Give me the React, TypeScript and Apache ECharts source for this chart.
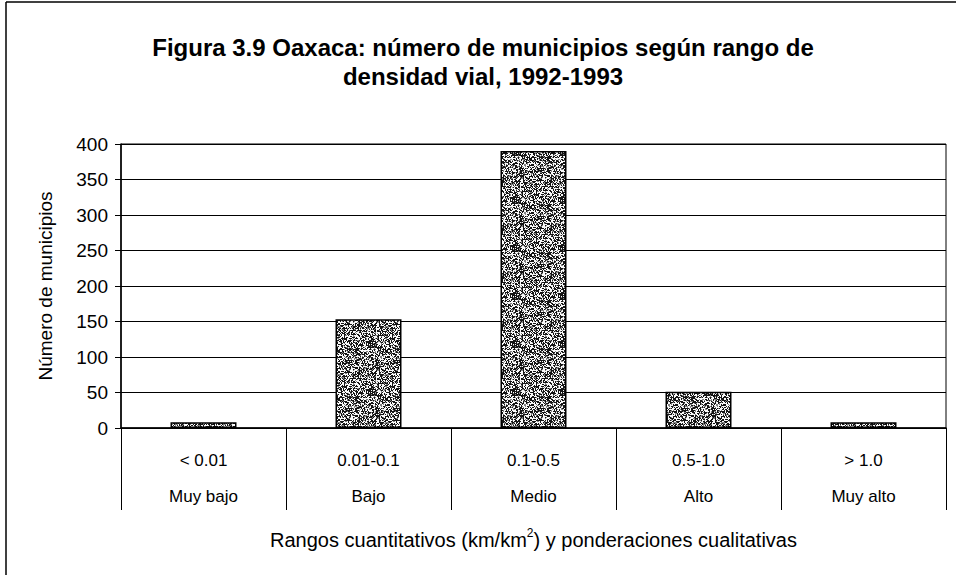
import React, { useEffect, useRef } from "react";
import * as echarts from "echarts";

const ranges = ["< 0.01", "0.01-0.1", "0.1-0.5", "0.5-1.0", "> 1.0"];
const levels = ["Muy bajo", "Bajo", "Medio", "Alto", "Muy alto"];
const municipios = [8, 153, 390, 51, 8];
const yTicks = { min: 0, max: 400, interval: 50 };

const titleText = "Figura 3.9 Oaxaca: número de municipios según rango de\ndensidad vial, 1992-1993";
const yName = "Número de municipios";
const xName = "Rangos cuantitativos (km/km{sup|2}) y ponderaciones cualitativas";

function makeStipple(): HTMLCanvasElement {
  const c = document.createElement("canvas");
  c.width = 48;
  c.height = 48;
  const ctx = c.getContext("2d")!;
  const img = ctx.createImageData(48, 48);
  let s = 12345;
  for (let i = 0; i < 48 * 48; i++) {
    s = (s * 1103515245 + 12345) & 0x7fffffff;
    const r = (s >> 8) % 100;
    const v = r < 45 ? 20 : r < 60 ? 130 : 250;
    img.data[i * 4] = v;
    img.data[i * 4 + 1] = v;
    img.data[i * 4 + 2] = v;
    img.data[i * 4 + 3] = 255;
  }
  ctx.putImageData(img, 0, 0);
  return c;
}

export default function App() {
  const ref = useRef<HTMLDivElement>(null);
  useEffect(() => {
    if (!ref.current) return;
    const chart = echarts.init(ref.current, null, { renderer: "svg" });
    const font = "'Liberation Sans', Arial, sans-serif";
    const pattern = makeStipple();
    chart.setOption({
      animation: false,
      backgroundColor: "#fff",
      textStyle: { fontFamily: font, color: "#000" },
      title: {
        text: titleText,
        left: 478,
        top: 28,
        textAlign: "center",
        textStyle: { fontFamily: font, fontWeight: "bold", fontSize: 24, lineHeight: 29, color: "#000" },
      },
      grid: {
        left: 121,
        right: 10,
        top: 144,
        bottom: 147,
        show: true,
        borderColor: "#000",
        borderWidth: 1,
      },
      xAxis: {
        type: "category",
        data: ranges.map((r, i) => r + "|" + levels[i]),
        axisLine: { lineStyle: { color: "#000", width: 1.5 } },
        axisTick: { show: true, interval: 0, length: 82, lineStyle: { color: "#000", width: 1 } },
        axisLabel: {
          interval: 0,
          margin: 14,
          color: "#000",
          formatter: (v: string) => {
            const [a, b] = v.split("|");
            return "{a|" + a + "}\n{b|" + b + "}";
          },
          rich: {
            a: { fontFamily: font, fontSize: 17, lineHeight: 36, color: "#000" },
            b: { fontFamily: font, fontSize: 17, lineHeight: 36, color: "#000" },
          },
        },
        name: xName,
        nameLocation: "middle",
        nameGap: 99,
        nameTextStyle: {
          fontFamily: font,
          fontSize: 20,
          color: "#000",
          rich: {
            sup: { fontFamily: font, fontSize: 12, verticalAlign: "top", padding: [0, 0, 13, 0], color: "#000" },
          },
        },
      },
      yAxis: {
        type: "value",
        min: yTicks.min,
        max: yTicks.max,
        interval: yTicks.interval,
        axisLine: { show: true, lineStyle: { color: "#000", width: 1.5 } },
        axisTick: { show: true, length: 6, lineStyle: { color: "#000" } },
        splitLine: { lineStyle: { color: "#000", width: 1.2 } },
        axisLabel: { fontFamily: font, fontSize: 19, color: "#000", margin: 13 },
        name: yName,
        nameLocation: "middle",
        nameGap: 66,
        nameTextStyle: { fontFamily: font, fontSize: 19, color: "#000" },
      },
      series: [
        {
          type: "bar",
          data: municipios,
          barWidth: "40%",
          itemStyle: {
            color: { image: pattern, repeat: "repeat" },
            borderColor: "#000",
            borderWidth: 1.5,
          },
        },
      ],
      graphic: [
        { type: "line", shape: { x1: 6, y1: 2, x2: 956, y2: 2 }, style: { stroke: "#000", lineWidth: 1.5 } },
        { type: "line", shape: { x1: 6, y1: 2, x2: 6, y2: 575 }, style: { stroke: "#000", lineWidth: 1.5 } },
      ],
    });
    return () => chart.dispose();
  }, []);
  return (
    <div
      ref={ref}
      style={{ position: "fixed", left: 0, top: 0, width: 956, height: 575 }}
    />
  );
}
